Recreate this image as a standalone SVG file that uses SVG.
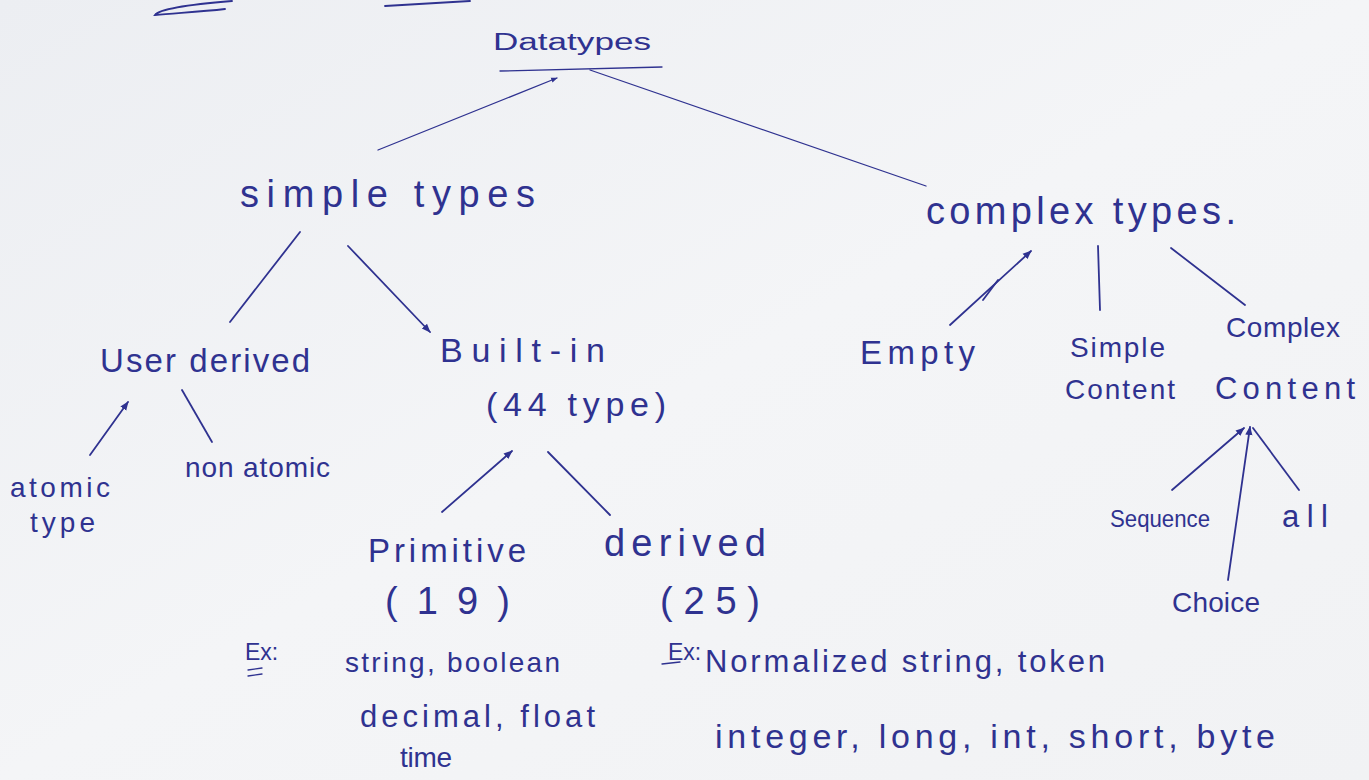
<svg xmlns="http://www.w3.org/2000/svg" width="1369" height="780" viewBox="0 0 1369 780">
  <defs>
    <linearGradient id="paper" x1="0" y1="0" x2="1" y2="1">
      <stop offset="0" stop-color="#eceef2"/>
      <stop offset="0.5" stop-color="#f4f5f7"/>
      <stop offset="1" stop-color="#f1f2f4"/>
    </linearGradient>
    <marker id="tip" viewBox="0 0 10 10" refX="9" refY="5" markerWidth="5" markerHeight="5" orient="auto-start-reverse">
      <path d="M0,1 L10,5 L0,9 z" fill="#2f3290"/>
    </marker>
    <style>
      .ink { fill: #2f3290; font-family: "Liberation Sans", "DejaVu Sans", sans-serif; }
      .l { fill: none; stroke: #2f3290; stroke-width: 1.8; stroke-linecap: round; }
      .thin { stroke-width: 1.3; }
      .big { font-size: 38px; }
      .mid { font-size: 33px; }
      .paren { font-size: 38px; }
      .sm { font-size: 28px; }
      .md2 { font-size: 31px; }
      .lg2 { font-size: 34px; }
      .xs { font-size: 23px; }
    </style>
  </defs>

  <rect width="1369" height="780" fill="url(#paper)"/>

  <!-- stray pen strokes along the top edge -->
  <path class="l" d="M232,1 C195,4 160,8 155,15 C175,13 200,12 225,9" stroke="#2a2a55"/>
  <path class="l" d="M385,6 L470,1" stroke="#2a2a55"/>

  <!-- connectors -->
  <g id="connectors">
    <line class="l thin" x1="500" y1="71" x2="662" y2="67"/>
    <line class="l thin" x1="378" y1="150" x2="557" y2="78" marker-end="url(#tip)"/>
    <line class="l thin" x1="590" y1="70" x2="926" y2="186"/>
    <line class="l" x1="230" y1="322" x2="300" y2="232"/>
    <line class="l" x1="348" y1="246" x2="430" y2="332" marker-end="url(#tip)"/>
    <line class="l" x1="90" y1="455" x2="128" y2="402" marker-end="url(#tip)"/>
    <line class="l" x1="182" y1="390" x2="212" y2="442"/>
    <line class="l" x1="442" y1="512" x2="512" y2="451" marker-end="url(#tip)"/>
    <line class="l" x1="548" y1="452" x2="610" y2="515"/>
    <line class="l" x1="950" y1="325" x2="1031" y2="251" marker-end="url(#tip)"/>
    <line class="l" x1="983" y1="300" x2="998" y2="280"/>
    <line class="l" x1="1100" y1="310" x2="1098" y2="246"/>
    <line class="l" x1="1245" y1="305" x2="1171" y2="248"/>
    <line class="l" x1="1172" y1="490" x2="1244" y2="428" marker-end="url(#tip)"/>
    <line class="l" x1="1228" y1="580" x2="1250" y2="427" marker-end="url(#tip)"/>
    <line class="l" x1="1299" y1="490" x2="1253" y2="428"/>
  </g>

  <g id="datatypes"><text class="ink xs" x="493" y="50" textLength="158" lengthAdjust="spacingAndGlyphs">Datatypes</text></g>
  <g id="simple-types"><text class="ink big" x="240" y="207" textLength="295" lengthAdjust="spacing">simple types</text></g>
  <g id="complex-types"><text class="ink big" x="926" y="224" textLength="310" lengthAdjust="spacing">complex types.</text></g>

  <g id="user-derived"><text class="ink mid" x="100" y="372" textLength="210" lengthAdjust="spacing">User derived</text></g>
  <g id="built-in">
    <text class="ink lg2" x="440" y="362" textLength="165" lengthAdjust="spacing">Built-in</text>
    <text class="ink lg2" x="486" y="416" textLength="180" lengthAdjust="spacing">(44 type)</text>
  </g>

  <g id="atomic-type">
    <text class="ink sm" x="10" y="497" textLength="100" lengthAdjust="spacing">atomic</text>
    <text class="ink sm" x="30" y="532" textLength="65" lengthAdjust="spacing">type</text>
  </g>
  <g id="non-atomic"><text class="ink sm" x="185" y="477" textLength="145" lengthAdjust="spacing">non atomic</text></g>

  <g id="primitive">
    <text class="ink mid" x="368" y="562" textLength="158" lengthAdjust="spacing">Primitive</text>
    <text class="ink paren" x="385" y="614" textLength="125" lengthAdjust="spacing">(19)</text>
  </g>
  <g id="derived">
    <text class="ink paren" x="604" y="556" textLength="162" lengthAdjust="spacing">derived</text>
    <text class="ink paren" x="660" y="614" textLength="100" lengthAdjust="spacing">(25)</text>
  </g>

  <g id="primitive-examples">
    <text class="ink xs" x="245" y="660">Ex:</text>
    <line class="l thin" x1="248" y1="670" x2="262" y2="668"/>
    <line class="l thin" x1="248" y1="676" x2="262" y2="674"/>
    <text class="ink sm" x="345" y="672" textLength="215" lengthAdjust="spacing">string, boolean</text>
    <text class="ink md2" x="360" y="727" textLength="235" lengthAdjust="spacing">decimal, float</text>
    <text class="ink sm" x="400" y="767" textLength="52" lengthAdjust="spacing">time</text>
  </g>

  <g id="derived-examples">
    <text class="ink xs" x="668" y="660">Ex:</text>
    <line class="l thin" x1="662" y1="664" x2="680" y2="662"/>
    <text class="ink md2" x="705" y="672" textLength="400" lengthAdjust="spacing">Normalized string, token</text>
    <text class="ink lg2" x="715" y="748" textLength="560" lengthAdjust="spacing">integer, long, int, short, byte</text>
  </g>

  <g id="empty"><text class="ink mid" x="860" y="364" textLength="115" lengthAdjust="spacing">Empty</text></g>
  <g id="simple-content">
    <text class="ink sm" x="1070" y="357" textLength="95" lengthAdjust="spacing">Simple</text>
    <text class="ink sm" x="1065" y="399" textLength="110" lengthAdjust="spacing">Content</text>
  </g>
  <g id="complex-content">
    <text class="ink sm" x="1226" y="337" textLength="114" lengthAdjust="spacing">Complex</text>
    <text class="ink md2" x="1215" y="399" textLength="140" lengthAdjust="spacing">Content</text>
  </g>

  <g id="sequence"><text class="ink xs" x="1110" y="527" textLength="100" lengthAdjust="spacingAndGlyphs">Sequence</text></g>
  <g id="choice"><text class="ink sm" x="1172" y="612" textLength="88" lengthAdjust="spacing">Choice</text></g>
  <g id="all"><text class="ink md2" x="1282" y="527" textLength="46" lengthAdjust="spacing">all</text></g>
</svg>
